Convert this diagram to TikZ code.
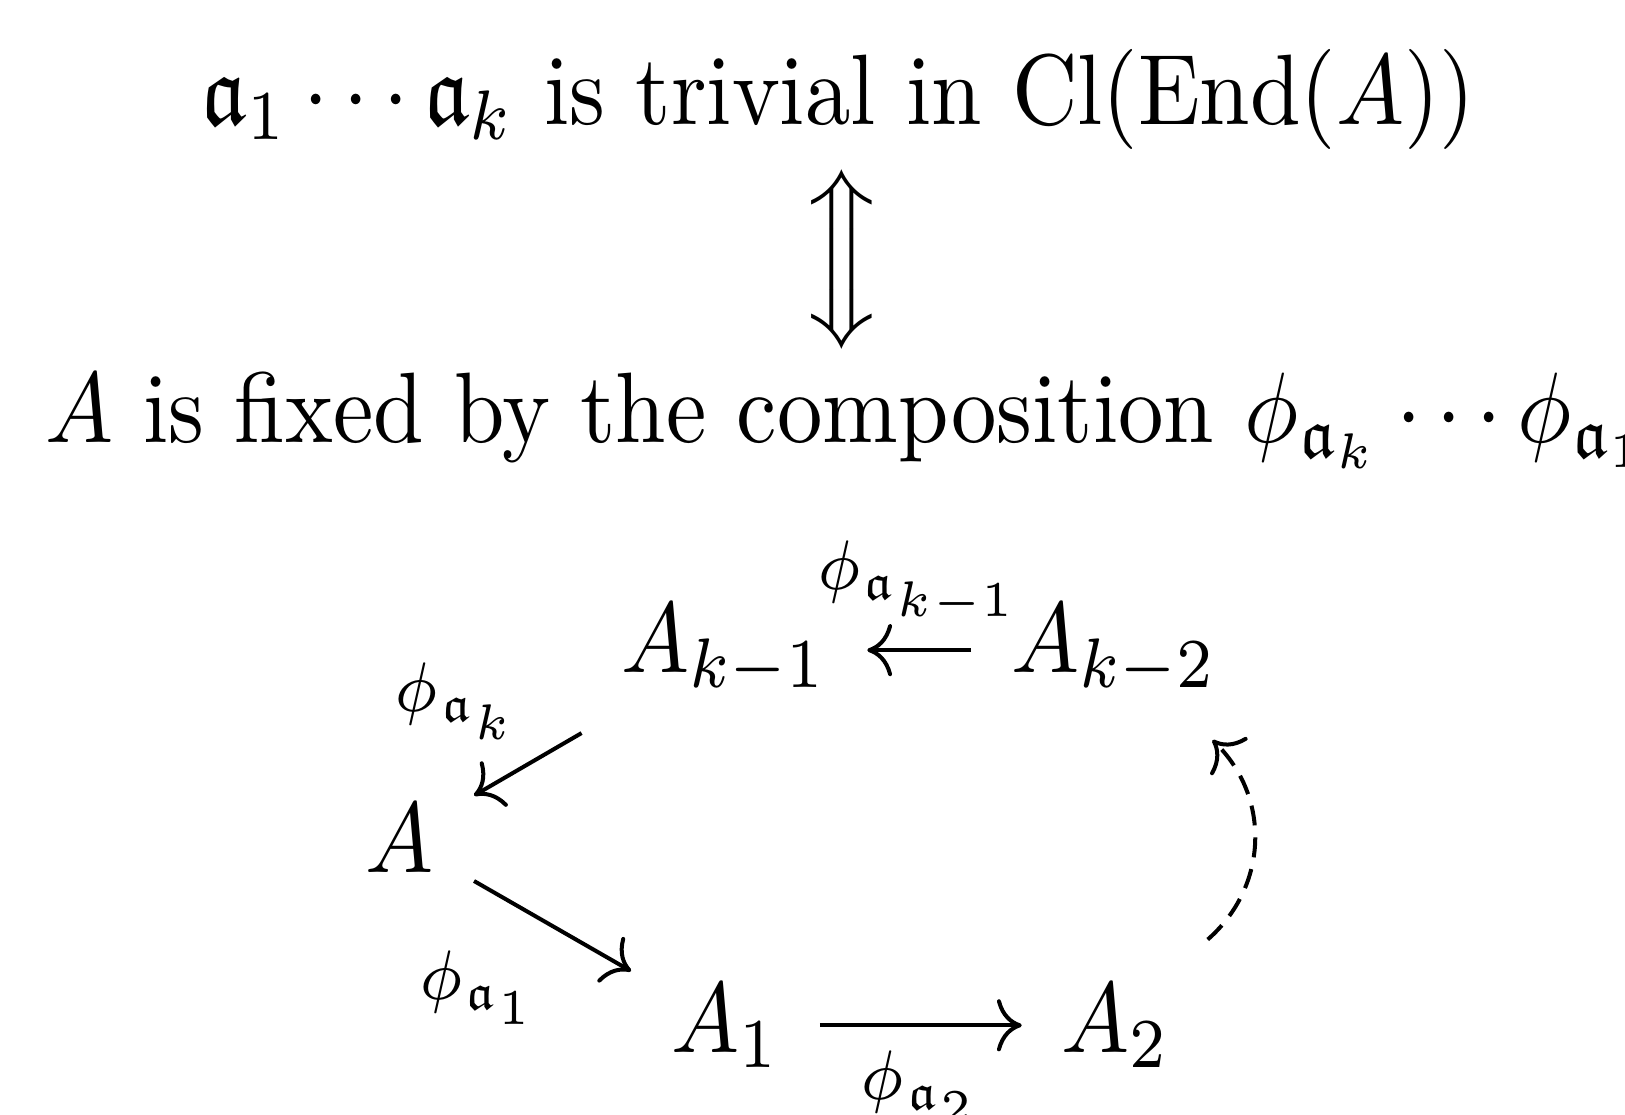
\documentclass[tikz,border=0pt]{standalone}
\usepackage{amsmath,amssymb}
\usetikzlibrary{positioning,arrows.meta}
\tikzset{
  >={Computer Modern Rightarrow},
  stmt/.style={anchor=base,inner sep=0pt},
  obj/.style={anchor=base,inner sep=4.2pt},
  mor/.style={->,line width=0.4pt},
  morlbl/.style={inner sep=2.3pt,execute at begin node=$\scriptstyle,
    execute at end node=$},
  dashmor/.style={->,line width=0.4pt,dash pattern=on 2pt off 1.2pt},
}
\begin{document}
\begin{tikzpicture}[xscale=0.907,x=0.1141pt,y=-0.1035pt,
  every node/.append style={transform shape}]
  \useasboundingbox (0,0) rectangle (1568,1075);
  \node[stmt] (triv) at (809,120)
    {$\mathfrak{a}_1\cdots\mathfrak{a}_k$ is trivial in $\mathrm{Cl}(\mathrm{End}(A))$};
  \node[inner sep=0pt] (iff) at (812,250) {$\Big\Updownarrow$};
  \node[stmt,anchor=base west] (fix) at (42,427)
    {$A$ is fixed by the composition $\phi_{\mathfrak{a}_k}\cdots\phi_{\mathfrak{a}_1}$};
  \node[obj] (A) at (386,842) {$A$};
  \node[obj] (Akm1) at (699,649) {$A_{k-1}$};
  \node[obj] (Akm2) at (1075,649) {$A_{k-2}$};
  \node[obj] (A1) at (700,1015) {$A_1$};
  \node[obj] (A2) at (1077,1015) {$A_2$};
  \draw[mor] (Akm2) -- node[morlbl,above]{\phi_{\mathfrak{a}_{k-1}}} (Akm1);
  \draw[mor] (Akm1) -- node[morlbl,above left,xshift=1.5pt]{\phi_{\mathfrak{a}_k}} (A);
  \draw[mor] (A) -- node[morlbl,below left,xshift=1pt]{\phi_{\mathfrak{a}_1}} (A1);
  \draw[mor] (A1) -- node[morlbl,below]{\phi_{\mathfrak{a}_2}} (A2);
  \draw[dashmor] (A2) to[bend right=50,looseness=1.1] (Akm2);
\end{tikzpicture}
\end{document}
